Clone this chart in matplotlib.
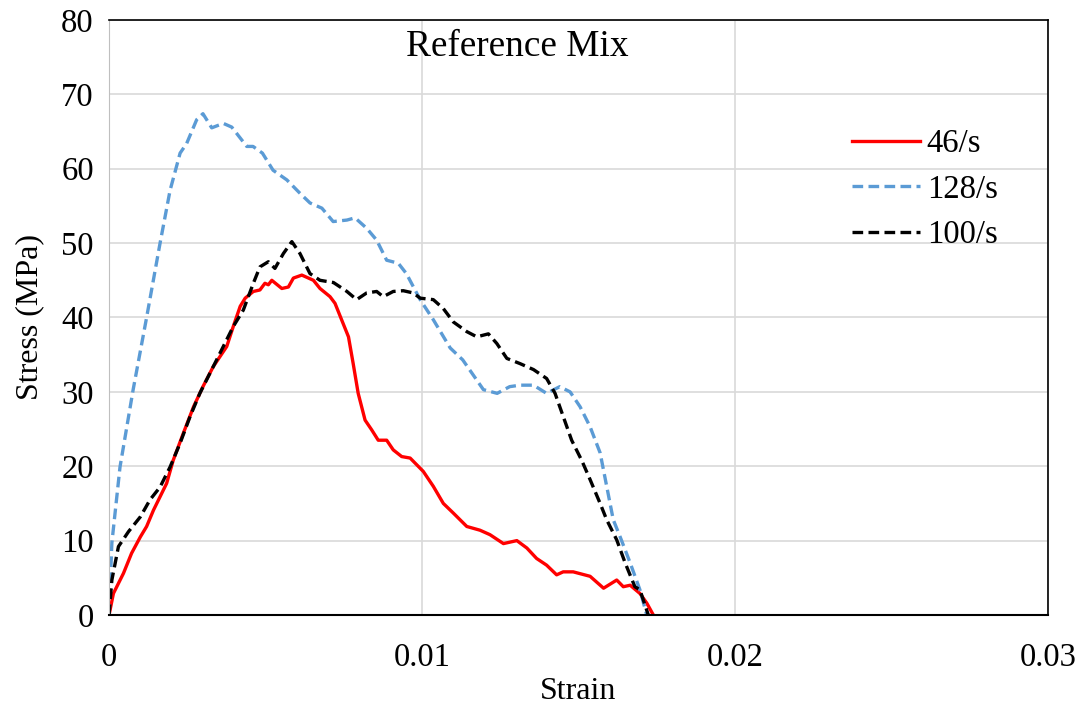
import numpy as np
import matplotlib.pyplot as plt

plt.rcParams['font.family'] = ['Liberation Serif', 'DejaVu Serif']

# 46/s (solid red)
strain_46 = [0, 0.00014, 0.00046, 0.00072, 0.001, 0.0012, 0.00142, 0.00163, 0.00184, 0.00205,
             0.00237, 0.0027, 0.003, 0.00333, 0.00376, 0.00397, 0.00419, 0.00435, 0.00461, 0.00482,
             0.00498, 0.00509, 0.0052, 0.00552, 0.00573, 0.00589, 0.00616, 0.00653, 0.00674, 0.00706,
             0.00722, 0.00743, 0.00765, 0.0078, 0.00796, 0.00818, 0.00839, 0.0086, 0.00887, 0.00908,
             0.00935, 0.00962, 0.01004, 0.01036, 0.01068, 0.011, 0.01143, 0.01185, 0.01217, 0.0126,
             0.01303, 0.01335, 0.01366, 0.01398, 0.0143, 0.01451, 0.01483, 0.01537, 0.0158, 0.01622,
             0.01643, 0.01665, 0.01696, 0.01718, 0.01739]
stress_46 = [0, 2.9, 5.6, 8.3, 10.5, 11.9, 14.1, 15.9, 17.7, 20.8,
             24.4, 28.0, 30.7, 33.4, 36.1, 38.8, 41.5, 42.6, 43.5, 43.7,
             44.6, 44.4, 45.0, 43.9, 44.1, 45.3, 45.7, 45.0, 43.9, 42.8,
             41.9, 39.7, 37.4, 33.8, 29.8, 26.2, 24.9, 23.5, 23.5, 22.2,
             21.3, 21.1, 19.3, 17.3, 15.0, 13.7, 11.9, 11.4, 10.8, 9.6,
             10.0, 9.0, 7.6, 6.7, 5.4, 5.8, 5.8, 5.2, 3.6, 4.7,
             3.8, 4.0, 2.9, 1.6, 0]

# 128/s (blue dashed)
strain_128 = [0, 0.00009, 0.00035, 0.00077, 0.0012, 0.00163, 0.00195, 0.00227, 0.00248, 0.0028,
              0.003, 0.00328, 0.00365, 0.00392, 0.0044, 0.0046, 0.0049, 0.00524, 0.00568, 0.0061,
              0.00642, 0.0068, 0.00716, 0.0076, 0.00786, 0.00823, 0.00855, 0.00887, 0.00924, 0.0095,
              0.00994, 0.01036, 0.0109, 0.0113, 0.01196, 0.0124, 0.0128, 0.01313, 0.01356, 0.01398,
              0.0144, 0.01473, 0.01505, 0.01537, 0.01569, 0.0159, 0.01611, 0.01633, 0.01665, 0.01696,
              0.01718]
stress_128 = [0, 9.7, 19.9, 30.3, 40.0, 50.0, 57.1, 62.1, 63.4, 66.6,
              67.4, 65.5, 66.1, 65.6, 63.0, 63.0, 62.1, 59.8, 58.5, 56.7,
              55.4, 54.7, 52.9, 53.1, 53.4, 52.0, 50.4, 47.7, 47.3, 45.9,
              42.4, 39.7, 35.9, 34.3, 30.3, 29.8, 30.7, 30.9, 30.9, 29.8,
              30.7, 30.0, 28.0, 25.3, 21.8, 17.3, 12.8, 10.5, 7.0, 3.4,
              0]

# 100/s (black dashed)
strain_100 = [0, 0.00009, 0.0003, 0.00062, 0.001, 0.00131, 0.00163, 0.00195, 0.00227, 0.00259,
              0.0029, 0.00333, 0.00365, 0.00397, 0.00429, 0.00461, 0.00482, 0.00509, 0.0053, 0.00557,
              0.00584, 0.0061, 0.00642, 0.00674, 0.00717, 0.0076, 0.00791, 0.00823, 0.00855, 0.00876,
              0.00908, 0.0094, 0.00972, 0.00994, 0.01036, 0.01068, 0.011, 0.01143, 0.01175, 0.01212,
              0.01239, 0.01271, 0.01313, 0.01356, 0.01398, 0.01425, 0.01451, 0.01478, 0.0151, 0.01537,
              0.01569, 0.0159, 0.01622, 0.01649, 0.0168, 0.01696, 0.01723]
stress_100 = [0, 4.7, 9.2, 11.2, 13.2, 15.5, 17.2, 19.9, 23.1, 26.7,
              29.8, 33.4, 36.1, 38.8, 41.0, 44.6, 46.8, 47.5, 46.6, 48.6,
              50.2, 48.6, 45.9, 45.0, 44.7, 43.5, 42.4, 43.3, 43.5, 42.8,
              43.5, 43.6, 43.3, 42.6, 42.4, 41.2, 39.4, 38.1, 37.4, 37.8,
              36.5, 34.5, 33.8, 33.0, 31.8, 29.8, 26.7, 23.5, 20.8, 18.2,
              15.0, 12.8, 10.1, 7.0, 3.8, 3.4, 0]

fig = plt.figure(figsize=(10.84, 7.09), dpi=100)
ax = fig.add_axes([0.1006, 0.1326, 0.8662, 0.8392])

ax.plot(strain_46, stress_46, color='#FF0000', lw=2.4, label='46/s')
ax.plot(strain_128, stress_128, color='#5B9BD5', lw=2.4, linestyle=(0, (3.2, 1.6)), label='128/s')
ax.plot(strain_100, stress_100, color='black', lw=2.4, linestyle=(0, (3.2, 1.6)), label='100/s')

ax.set_xlim(0, 0.03)
ax.set_ylim(0, 80)
ax.set_xticks([0, 0.01, 0.02, 0.03])
ax.set_xticklabels(['0', '0.01', '0.02', '0.03'])
ax.set_yticks(np.arange(0, 81, 10))
ax.grid(True, color='#D9D9D9', lw=1.2)
ax.set_axisbelow(True)
ax.tick_params(length=0, labelsize=23.5)
ax.tick_params(axis='y', pad=11)
ax.tick_params(axis='x', pad=20)
ax.spines['left'].set_color('#BFBFBF')
ax.spines['bottom'].set_linewidth(1.5)
for s in ['top', 'right']:
    ax.spines[s].set_color('black')
    ax.spines[s].set_linewidth(1.2)

ax.set_xlabel('Strain', fontsize=23, labelpad=3)
ax.set_ylabel('Stress (MPa)', fontsize=23, labelpad=12)
ax.text(0.435, 0.984, 'Reference Mix', transform=ax.transAxes, ha='center', va='top', fontsize=26.8)

ax.legend(loc='upper left', bbox_to_anchor=(0.777, 0.839), borderaxespad=0, frameon=False,
          fontsize=23.5, handlelength=2.1, handletextpad=0.2, labelspacing=0.46)

fig.savefig('out.png', dpi=100)
